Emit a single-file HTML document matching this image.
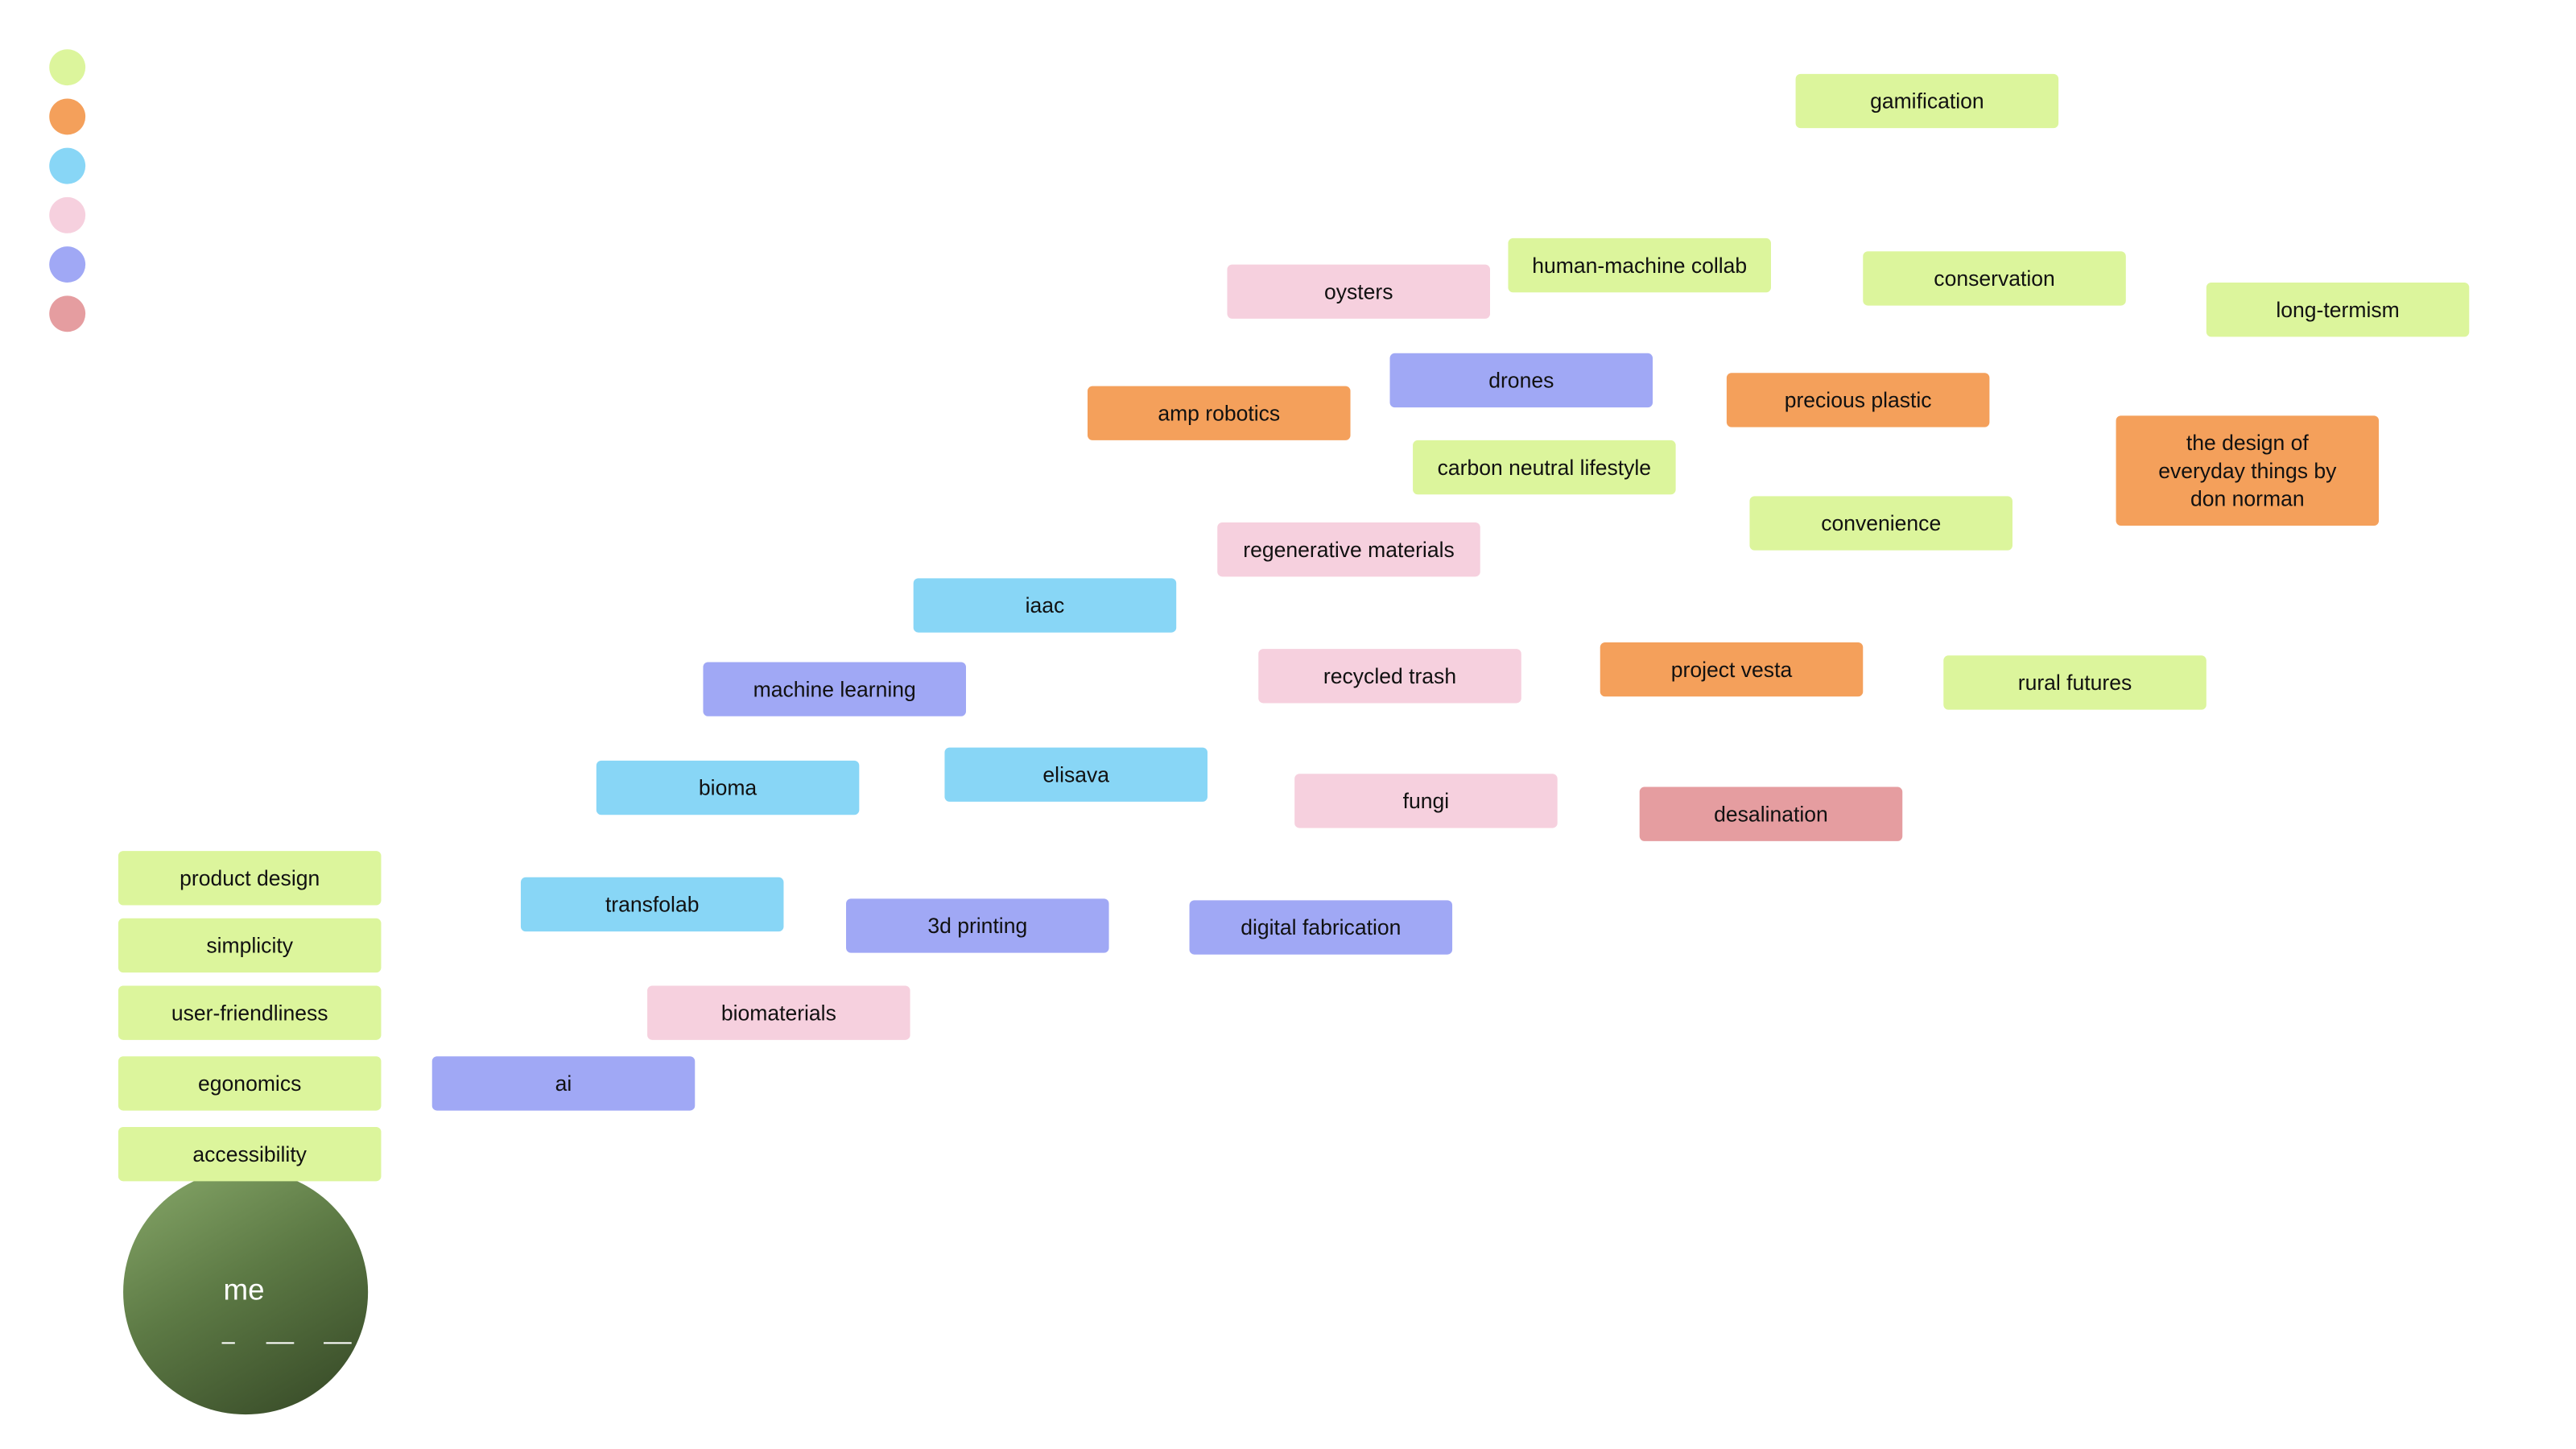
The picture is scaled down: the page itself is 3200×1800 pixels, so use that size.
<!DOCTYPE html>
<html><head><meta charset="utf-8">
<style>
html,body{margin:0;padding:0;background:#fff;width:3200px;height:1800px;overflow:hidden}
#stage{position:absolute;left:0;top:0;width:1568px;height:882px;transform:scale(2.0408);transform-origin:0 0;font-family:"Liberation Sans",sans-serif}
.n{position:absolute;width:160px;height:33px;border-radius:3px;display:flex;align-items:center;justify-content:center;text-align:center;font-size:13px;color:#111;line-height:17px}
.dot{position:absolute;width:22px;height:22px;border-radius:50%;left:30px}
.g{background:#dcf59c}.o{background:#f4a05b}.b{background:#88d6f6}.p{background:#f6d0de}.v{background:#a0a8f5}.r{background:#e59da0}
#me{position:absolute;left:75px;top:712px;width:149px;height:149px;border-radius:50%;background:linear-gradient(150deg,#88a96a 0%,#5d7a45 45%,#334524 100%);color:#fff;font-size:18px}
</style></head><body>
<div id="stage">
<div class="dot g" style="top:30px"></div>
<div class="dot o" style="top:60px"></div>
<div class="dot b" style="top:90px"></div>
<div class="dot p" style="top:120px"></div>
<div class="dot v" style="top:150px"></div>
<div class="dot r" style="top:180px"></div>

<div id="me">
<span style="position:absolute;left:61px;top:63px">me</span>
<div style="position:absolute;left:60px;top:105px;width:8px;height:1px;background:#fff"></div>
<div style="position:absolute;left:87px;top:105px;width:17px;height:1px;background:#fff"></div>
<div style="position:absolute;left:122px;top:105px;width:17px;height:1px;background:#fff"></div>
</div>

<div class="n g" style="left:1093px;top:45px">gamification</div>
<div class="n g" style="left:918px;top:145px">human-machine collab</div>
<div class="n g" style="left:1134px;top:153px">conservation</div>
<div class="n g" style="left:1343px;top:172px">long-termism</div>
<div class="n p" style="left:747px;top:161px">oysters</div>
<div class="n v" style="left:846px;top:215px">drones</div>
<div class="n o" style="left:1051px;top:227px">precious plastic</div>
<div class="n o" style="left:662px;top:235px">amp robotics</div>
<div class="n o" style="left:1288px;top:253px;height:67px">the design of<br>everyday things by<br>don norman</div>
<div class="n g" style="left:860px;top:268px">carbon neutral lifestyle</div>
<div class="n g" style="left:1065px;top:302px">convenience</div>
<div class="n p" style="left:741px;top:318px">regenerative materials</div>
<div class="n b" style="left:556px;top:352px">iaac</div>
<div class="n v" style="left:428px;top:403px">machine learning</div>
<div class="n p" style="left:766px;top:395px">recycled trash</div>
<div class="n o" style="left:974px;top:391px">project vesta</div>
<div class="n g" style="left:1183px;top:399px">rural futures</div>
<div class="n b" style="left:363px;top:463px">bioma</div>
<div class="n b" style="left:575px;top:455px">elisava</div>
<div class="n p" style="left:788px;top:471px">fungi</div>
<div class="n r" style="left:998px;top:479px">desalination</div>
<div class="n g" style="left:72px;top:518px">product design</div>
<div class="n b" style="left:317px;top:534px">transfolab</div>
<div class="n v" style="left:515px;top:547px">3d printing</div>
<div class="n v" style="left:724px;top:548px">digital fabrication</div>
<div class="n g" style="left:72px;top:559px">simplicity</div>
<div class="n g" style="left:72px;top:600px">user-friendliness</div>
<div class="n p" style="left:394px;top:600px">biomaterials</div>
<div class="n v" style="left:263px;top:643px">ai</div>
<div class="n g" style="left:72px;top:643px">egonomics</div>
<div class="n g" style="left:72px;top:686px">accessibility</div>
</div>
</body></html>
